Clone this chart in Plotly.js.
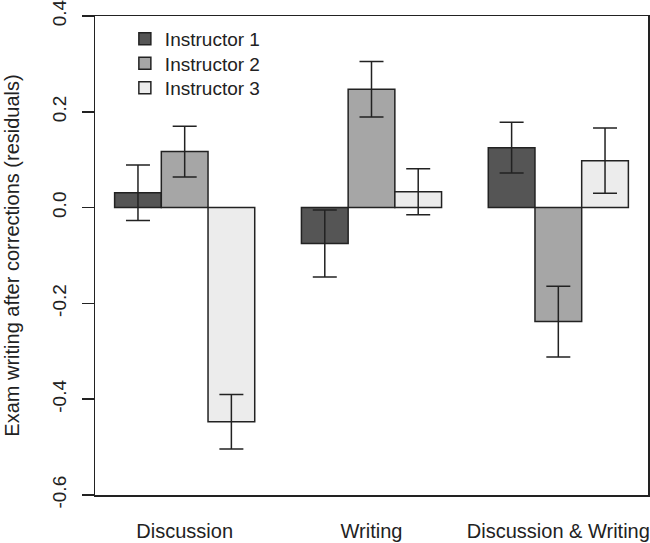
<!DOCTYPE html>
<html>
<head>
<meta charset="utf-8">
<script src="https://cdn.plot.ly/plotly-3.0.1.min.js"></script>
<style>html,body{margin:0;padding:0;background:#fff;}#chart{width:650px;height:543px;}</style>
</head>
<body>
<div id="chart"></div>
<script>
const categories = ["Discussion", "Writing", "Discussion & Writing"];
const seriesNames = ["Instructor 1", "Instructor 2", "Instructor 3"];
const instructor1 = [0.031, -0.075, 0.125];
const instructor1Err = [0.058, 0.070, 0.053];
const instructor2 = [0.117, 0.247, -0.238];
const instructor2Err = [0.053, 0.058, 0.074];
const instructor3 = [-0.447, 0.033, 0.098];
const instructor3Err = [0.057, 0.048, 0.068];
const yTickVals = [-0.6, -0.4, -0.2, 0.0, 0.2, 0.4];
const yTickText = ["-0.6", "-0.4", "-0.2", "0.0", "0.2", "0.4"];

const colors = ["#555555", "#a6a6a6", "#ececec"];
const values = [instructor1, instructor2, instructor3];
const errs = [instructor1Err, instructor2Err, instructor3Err];
const ink = "#222222";
const fontFam = "Liberation Sans, Arial, sans-serif";
const legendIds = ["legend", "legend2", "legend3"];
const legendY = [0.952, 0.901, 0.850];

const traces = seriesNames.map((name, i) => ({
  type: "bar",
  name: name,
  legend: legendIds[i],
  x: categories,
  y: values[i],
  marker: {color: colors[i], line: {color: ink, width: 1.5}},
  error_y: {type: "data", array: errs[i], visible: true, color: ink, thickness: 1.5, width: 12},
  hoverinfo: "none"
}));

const layout = {
  width: 650, height: 543,
  margin: {l: 95, r: 2, t: 16, b: 48, pad: 0},
  paper_bgcolor: "#ffffff", plot_bgcolor: "#ffffff",
  font: {family: fontFam, color: ink, size: 19},
  barmode: "group", bargap: 0.25, bargroupgap: 0,
  showlegend: true,
  xaxis: {
    type: "category", range: [-0.48, 2.48], showgrid: false, zeroline: false,
    showline: true, mirror: true, linecolor: ink, linewidth: 1.5,
    ticks: "", ticklabelstandoff: 17,
    tickfont: {family: fontFam, size: 20, color: ink}
  },
  yaxis: {
    range: [-0.6, 0.4], tickvals: yTickVals, ticktext: yTickText,
    showgrid: false, zeroline: false, showline: true, mirror: true,
    linecolor: ink, linewidth: 1.5, ticks: "outside", ticklen: 12, tickwidth: 1.5, tickcolor: ink,
    tickangle: -90, ticklabelstandoff: 8, ticklabeloverflow: "allow",
    tickfont: {family: fontFam, size: 19, color: ink},
    title: {text: "Exam writing after corrections (residuals)", font: {family: fontFam, size: 20, color: ink}, standoff: 24}
  }
};
legendIds.forEach((id, i) => {
  layout[id] = {x: 0.054, y: legendY[i], xanchor: "left", yanchor: "middle", bgcolor: "rgba(0,0,0,0)",
                font: {family: fontFam, size: 19, color: ink}, itemwidth: 30};
});

Plotly.newPlot("chart", traces, layout, {staticPlot: true, displayModeBar: false});
</script>
</body>
</html>
